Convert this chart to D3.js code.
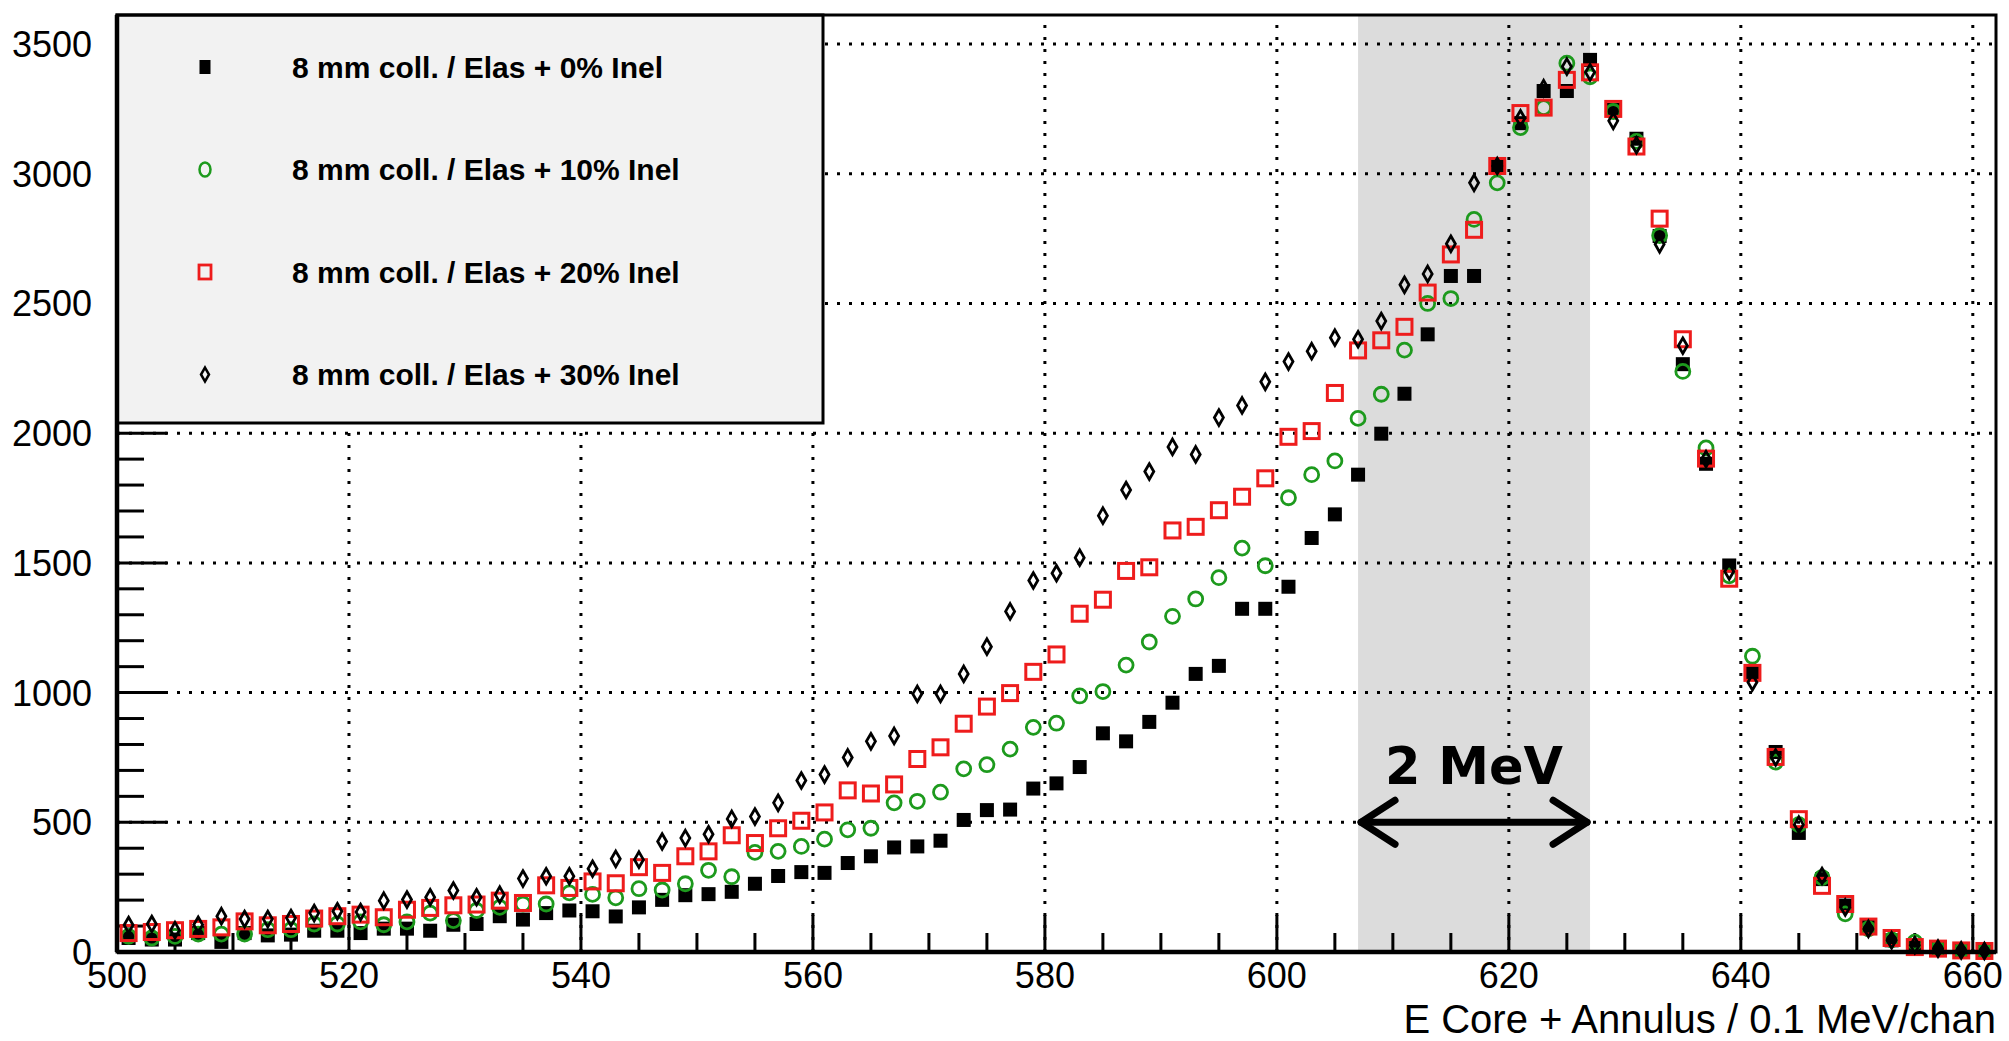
<!DOCTYPE html>
<html>
<head>
<meta charset="utf-8">
<script src="https://cdn.jsdelivr.net/npm/d3@7"></script>
<style>
  body { margin: 0; background: #fff; }
  svg { display: block; }
  text { font-family: "Liberation Sans", Arial, Helvetica, sans-serif; }
</style>
</head>
<body>
<script>
var w = 2009;
var h = 1041;

// channel centres (0.1 MeV/chan)
var channels = [501, 503, 505, 507, 509, 511, 513, 515, 517, 519,
  521, 523, 525, 527, 529, 531, 533, 535, 537, 539,
  541, 543, 545, 547, 549, 551, 553, 555, 557, 559,
  561, 563, 565, 567, 569, 571, 573, 575, 577, 579,
  581, 583, 585, 587, 589, 591, 593, 595, 597, 599,
  601, 603, 605, 607, 609, 611, 613, 615, 617, 619,
  621, 623, 625, 627, 629, 631, 633, 635, 637, 639,
  641, 643, 645, 647, 649, 651, 653, 655, 657, 659,
  661];

// counts per channel, one array per inelastic fraction
var inel0 = [54, 48, 48, 73, 39, 73, 64, 67, 82, 82,
  73, 90, 90, 82, 105, 108, 138, 125, 150, 160,
  157, 137, 172, 201, 219, 223, 232, 263, 293, 308,
  305, 343, 369, 403, 407, 429, 509, 547, 549, 630,
  650, 713, 843, 812, 887, 961, 1072, 1103, 1323, 1323,
  1408, 1596, 1687, 1840, 1998, 2152, 2381, 2606, 2606, 3030,
  3195, 3319, 3319, 3439, 3246, 3135, 2760, 2266, 1882, 1490,
  1076, 771, 459, 281, 179, 96, 45, 19, 13, 6,
  4];

var inel10 = [60, 54, 60, 69, 69, 69, 86, 86, 108, 108,
  116, 105, 116, 150, 121, 160, 172, 185, 185, 228,
  222, 209, 244, 239, 263, 315, 290, 384, 388, 407,
  435, 471, 477, 575, 581, 616, 706, 722, 782, 866,
  882, 987, 1004, 1106, 1195, 1294, 1361, 1443, 1557, 1489,
  1751, 1840, 1893, 2057, 2150, 2320, 2500, 2519, 2824, 2965,
  3178, 3255, 3426, 3374, 3240, 3125, 2762, 2238, 1943, 1450,
  1140, 732, 491, 287, 147, 89, 47, 38, 13, 6,
  4];

var inel20 = [73, 77, 84, 89, 95, 118, 103, 108, 129, 138,
  144, 134, 163, 170, 180, 183, 198, 189, 257, 247,
  272, 265, 327, 305, 369, 388, 450, 420, 477, 506,
  538, 623, 611, 646, 744, 789, 880, 946, 998, 1080,
  1147, 1304, 1358, 1469, 1483, 1625, 1639, 1703, 1755, 1826,
  1986, 2008, 2155, 2319, 2358, 2410, 2542, 2689, 2784, 3030,
  3234, 3255, 3362, 3391, 3250, 3105, 2827, 2362, 1902, 1439,
  1076, 752, 512, 255, 185, 98, 54, 19, 13, 6,
  4];

var inel30 = [104, 108, 84, 105, 138, 127, 127, 131, 150, 157,
  154, 198, 202, 211, 237, 211, 221, 283, 292, 292,
  321, 359, 356, 426, 439, 454, 513, 522, 575, 661,
  684, 750, 812, 833, 995, 995, 1072, 1177, 1313, 1432,
  1460, 1520, 1682, 1781, 1852, 1947, 1918, 2060, 2107, 2198,
  2276, 2316, 2368, 2362, 2432, 2572, 2614, 2730, 2965, 3030,
  3214, 3330, 3413, 3391, 3204, 3110, 2728, 2337, 1900, 1467,
  1040, 750, 491, 293, 172, 89, 45, 26, 13, 6,
  4];

var legendLabels = ['8 mm coll. / Elas + 0% Inel', '8 mm coll. / Elas + 10% Inel',
  '8 mm coll. / Elas + 20% Inel', '8 mm coll. / Elas + 30% Inel'];

var xTicks = [500, 520, 540, 560, 580, 600, 620, 640, 660];
var yTicks = [0, 500, 1000, 1500, 2000, 2500, 3000, 3500];
var xTitle = 'E Core + Annulus / 0.1 MeV/chan';

// the 2 MeV window
var window2MeV = [607, 627];
var windowLabel = '2 MeV';

// marker style for each series
var styles = [
  {kind: 'fsquare', color: '#000000'},
  {kind: 'ocircle', color: '#1d9a1d'},
  {kind: 'osquare', color: '#ee1c1c'},
  {kind: 'odiamond', color: '#000000'}
];
var allSeries = [inel0, inel10, inel20, inel30];

var frame = {left: 117, right: 1996, top: 15, bottom: 952};

var x = d3.scaleLinear().domain([500, 662]).range([frame.left, frame.right]);
var y = d3.scaleLinear().domain([0, 3612]).range([frame.bottom, frame.top]);

var svg = d3.select('body').append('svg').attr('width', w).attr('height', h);

// shaded 2 MeV window
svg.append('rect')
  .attr('x', x(window2MeV[0]))
  .attr('y', frame.top)
  .attr('width', x(window2MeV[1]) - x(window2MeV[0]))
  .attr('height', frame.bottom - frame.top)
  .style('fill', '#dcdcdc');

// dotted grid
var grid = svg.append('g').attr('class', 'grid')
  .style('stroke', '#000').style('stroke-width', 3).style('stroke-dasharray', '3,9');

grid.selectAll('.gx').data(xTicks.filter(function(d) { return d > 500; }))
  .enter().append('line')
  .attr('x1', function(d) { return x(d); })
  .attr('x2', function(d) { return x(d); })
  .attr('y1', frame.bottom)
  .attr('y2', frame.top);

grid.selectAll('.gy').data(yTicks.filter(function(d) { return d > 0; }))
  .enter().append('line')
  .attr('x1', frame.left)
  .attr('x2', frame.right)
  .attr('y1', function(d) { return y(d); })
  .attr('y2', function(d) { return y(d); });

// axis ticks (major + minor), drawn inside the frame
var ticks = svg.append('g').style('stroke', '#000').style('stroke-width', 3);

var yMinor = d3.range(100, 3600, 100);
ticks.selectAll('.ty').data(yMinor)
  .enter().append('line')
  .attr('x1', frame.left)
  .attr('x2', function(d) { return frame.left + (d % 500 === 0 ? 50 : 27); })
  .attr('y1', function(d) { return y(d); })
  .attr('y2', function(d) { return y(d); });

var xMinor = d3.range(505, 662, 5);
ticks.selectAll('.tx').data(xMinor)
  .enter().append('line')
  .attr('x1', function(d) { return x(d); })
  .attr('x2', function(d) { return x(d); })
  .attr('y1', frame.bottom)
  .attr('y2', function(d) { return frame.bottom - (d % 20 === 0 ? 37 : 19); });

// data points
var points = svg.append('g');

allSeries.forEach(function(series, i) {
  var st = styles[i];
  var data = series.map(function(v, j) { return {x: channels[j], v: v}; });
  var g = points.append('g');

  if (st.kind === 'fsquare') {
    g.selectAll('rect').data(data).enter().append('rect')
      .attr('x', function(d) { return x(d.x) - 7; })
      .attr('y', function(d) { return y(d.v) - 7; })
      .attr('width', 14).attr('height', 14)
      .style('fill', st.color);
  } else if (st.kind === 'osquare') {
    g.selectAll('rect').data(data).enter().append('rect')
      .attr('x', function(d) { return x(d.x) - 7.5; })
      .attr('y', function(d) { return y(d.v) - 7.5; })
      .attr('width', 15).attr('height', 15)
      .style('fill', 'none').style('stroke', st.color).style('stroke-width', 3);
  } else if (st.kind === 'ocircle') {
    g.selectAll('circle').data(data).enter().append('circle')
      .attr('cx', function(d) { return x(d.x); })
      .attr('cy', function(d) { return y(d.v); })
      .attr('r', 7)
      .style('fill', 'none').style('stroke', st.color).style('stroke-width', 2.8);
  } else {
    g.selectAll('path').data(data).enter().append('path')
      .attr('d', d3.symbol().type(d3.symbolDiamond).size(70))
      .attr('transform', function(d) { return 'translate(' + x(d.x) + ',' + y(d.v) + ')'; })
      .style('fill', 'none').style('stroke', st.color).style('stroke-width', 2.8);
  }
});

// legend box
var legend = svg.append('g');
legend.append('rect')
  .attr('x', frame.left).attr('y', frame.top)
  .attr('width', 706).attr('height', 408)
  .style('fill', '#f2f2f2').style('stroke', '#000').style('stroke-width', 3);

var rowY = function(i) { return 67 + i * 102.5; };

styles.forEach(function(st, i) {
  var cx = 205, cy = rowY(i);
  if (st.kind === 'fsquare') {
    legend.append('rect').attr('x', cx - 5.5).attr('y', cy - 7).attr('width', 11).attr('height', 14)
      .style('fill', st.color);
  } else if (st.kind === 'osquare') {
    legend.append('rect').attr('x', cx - 6).attr('y', cy - 7).attr('width', 12).attr('height', 14)
      .style('fill', 'none').style('stroke', st.color).style('stroke-width', 2.8);
  } else if (st.kind === 'ocircle') {
    legend.append('ellipse').attr('cx', cx).attr('cy', cy).attr('rx', 5.5).attr('ry', 7)
      .style('fill', 'none').style('stroke', st.color).style('stroke-width', 2.5);
  } else {
    legend.append('path')
      .attr('d', d3.symbol().type(d3.symbolDiamond).size(55))
      .attr('transform', 'translate(' + cx + ',' + cy + ')')
      .style('fill', 'none').style('stroke', st.color).style('stroke-width', 2.5);
  }
  legend.append('text')
    .attr('x', 292).attr('y', cy).attr('dy', '0.35em')
    .style('font-size', '30px').style('font-weight', 'bold')
    .text(legendLabels[i]);
});

// frame
svg.append('rect')
  .attr('x', frame.left).attr('y', frame.top)
  .attr('width', frame.right - frame.left).attr('height', frame.bottom - frame.top)
  .style('fill', 'none').style('stroke', '#000').style('stroke-width', 3);
svg.append('line')
  .attr('x1', frame.left).attr('x2', frame.right)
  .attr('y1', frame.bottom).attr('y2', frame.bottom)
  .style('stroke', '#000').style('stroke-width', 4.5);
svg.append('line')
  .attr('x1', frame.left).attr('x2', frame.left)
  .attr('y1', frame.top).attr('y2', frame.bottom)
  .style('stroke', '#000').style('stroke-width', 4.5);

// tick labels
svg.selectAll('.xl').data(xTicks).enter().append('text')
  .attr('x', function(d) { return x(d); })
  .attr('y', 988)
  .attr('text-anchor', 'middle')
  .style('font-size', '36px')
  .text(function(d) { return d; });

svg.selectAll('.yl').data(yTicks).enter().append('text')
  .attr('x', 92)
  .attr('y', function(d) { return y(d); })
  .attr('dy', '0.36em')
  .attr('text-anchor', 'end')
  .style('font-size', '36px')
  .text(function(d) { return d; });

svg.append('text')
  .attr('x', frame.right).attr('y', 1033)
  .attr('text-anchor', 'end')
  .style('font-size', '40px')
  .text(xTitle);

// double arrow across the window at 500 counts
var ay = y(500), ax0 = x(window2MeV[0]), ax1 = x(window2MeV[1]);
var arrow = svg.append('g').style('stroke', '#000').style('stroke-width', 7)
  .style('stroke-linecap', 'round').style('stroke-linejoin', 'round').style('fill', 'none');
arrow.append('line').attr('x1', ax0 + 3).attr('x2', ax1 - 3).attr('y1', ay).attr('y2', ay);
arrow.append('path').attr('d', 'M' + (ax0 + 37) + ',' + (ay - 22) + 'L' + (ax0 + 3) + ',' + ay + 'L' + (ax0 + 37) + ',' + (ay + 22));
arrow.append('path').attr('d', 'M' + (ax1 - 37) + ',' + (ay - 22) + 'L' + (ax1 - 3) + ',' + ay + 'L' + (ax1 - 37) + ',' + (ay + 22));

svg.append('text')
  .attr('x', (ax0 + ax1) / 2)
  .attr('y', y(648))
  .attr('text-anchor', 'middle')
  .style('font-family', '"DejaVu Sans", sans-serif')
  .style('font-weight', 'bold')
  .style('font-size', '51px')
  .text(windowLabel);
</script>
</body>
</html>
